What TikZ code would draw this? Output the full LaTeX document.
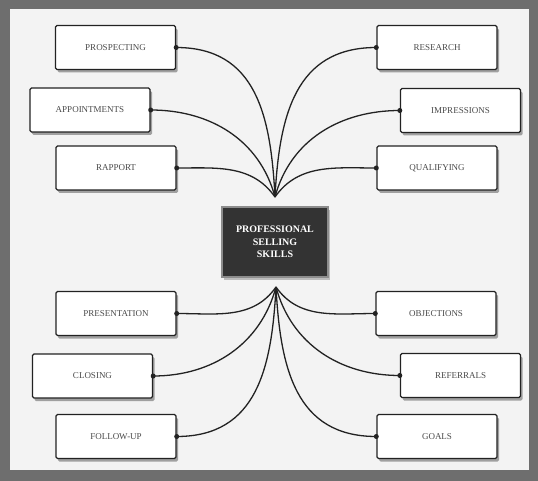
\documentclass[tikz,border=0pt]{standalone}
\usepackage{fontspec}
\setmainfont{Liberation Serif}
\usetikzlibrary{shadows}
\definecolor{outerbg}{HTML}{6E6E6E}
\definecolor{panelbg}{HTML}{F3F3F3}
\definecolor{boxtext}{HTML}{4A4A4A}
\definecolor{linecol}{HTML}{222222}
\definecolor{hubfill}{HTML}{333333}
\tikzset{
  skillbox/.style={draw=linecol, line width=1.4pt, fill=white, rounded corners=1.5pt,
    minimum width=120pt, minimum height=44pt, inner sep=2pt,
    font=\fontsize{9}{10}\selectfont, text=boxtext,
    drop shadow={shadow xshift=2pt, shadow yshift=-3pt, fill=black!45, opacity=0.8}},
  hubbox/.style={draw=black!45, line width=1.2pt, fill=hubfill,
    minimum width=106pt, minimum height=70pt, inner sep=2pt, align=center,
    font=\fontsize{10}{12.5}\selectfont\bfseries, text=white,
    drop shadow={shadow xshift=2pt, shadow yshift=-3pt, fill=black!35, opacity=0.7}},
  link/.style={draw=linecol, line width=1.3pt},
  enddot/.style={circle, fill=linecol, inner sep=0pt, minimum size=5pt}
}
\begin{document}
\begin{tikzpicture}[x=1pt, y=-1pt]
\useasboundingbox (0,0) rectangle (538,481);
\fill[outerbg] (0,0) rectangle (538,481);
\fill[panelbg] (10,9) rectangle (529,470);
% hub
\node[hubbox] (hub) at (275,242) {PROFESSIONAL\\SELLING\\SKILLS};
\coordinate (ht) at (275,197);
\coordinate (hb) at (276,287);
% left top
\node[skillbox] (pro) at (115.5,47.5) {PROSPECTING};
\node[skillbox] (app) at (90,110) {APPOINTMENTS};
\node[skillbox] (rap) at (116,168) {RAPPORT};
% right top
\node[skillbox] (res) at (437,47.5) {RESEARCH};
\node[skillbox] (imp) at (460.5,110.5) {IMPRESSIONS};
\node[skillbox] (qua) at (437,168) {QUALIFYING};
% left bottom
\node[skillbox] (pre) at (116,313.5) {PRESENTATION};
\node[skillbox] (clo) at (92.5,376) {CLOSING};
\node[skillbox] (fol) at (116,436.5) {FOLLOW-UP};
% right bottom
\node[skillbox] (obj) at (436,313.5) {OBJECTIONS};
\node[skillbox] (ref) at (460.5,375.5) {REFERRALS};
\node[skillbox] (goa) at (437,436.5) {GOALS};
% connectors
\draw[link] (ht) to[out=93, in=0, looseness=1.15] (pro.east);
\draw[link] (ht) to[out=105, in=0] (app.east);
\draw[link] (ht) to[out=125, in=0] (rap.east);
\draw[link] (ht) to[out=87, in=180, looseness=1.15] (res.west);
\draw[link] (ht) to[out=75, in=180] (imp.west);
\draw[link] (ht) to[out=55, in=180] (qua.west);
\draw[link] (hb) to[out=-125, in=0] (pre.east);
\draw[link] (hb) to[out=-105, in=0] (clo.east);
\draw[link] (hb) to[out=-93, in=0, looseness=1.15] (fol.east);
\draw[link] (hb) to[out=-55, in=180] (obj.west);
\draw[link] (hb) to[out=-75, in=180] (ref.west);
\draw[link] (hb) to[out=-87, in=180, looseness=1.15] (goa.west);
\foreach \n in {pro,app,rap,pre,clo,fol} \node[enddot] at (\n.east) {};
\foreach \n in {res,imp,qua,obj,ref,goa} \node[enddot] at (\n.west) {};
\end{tikzpicture}
\end{document}
